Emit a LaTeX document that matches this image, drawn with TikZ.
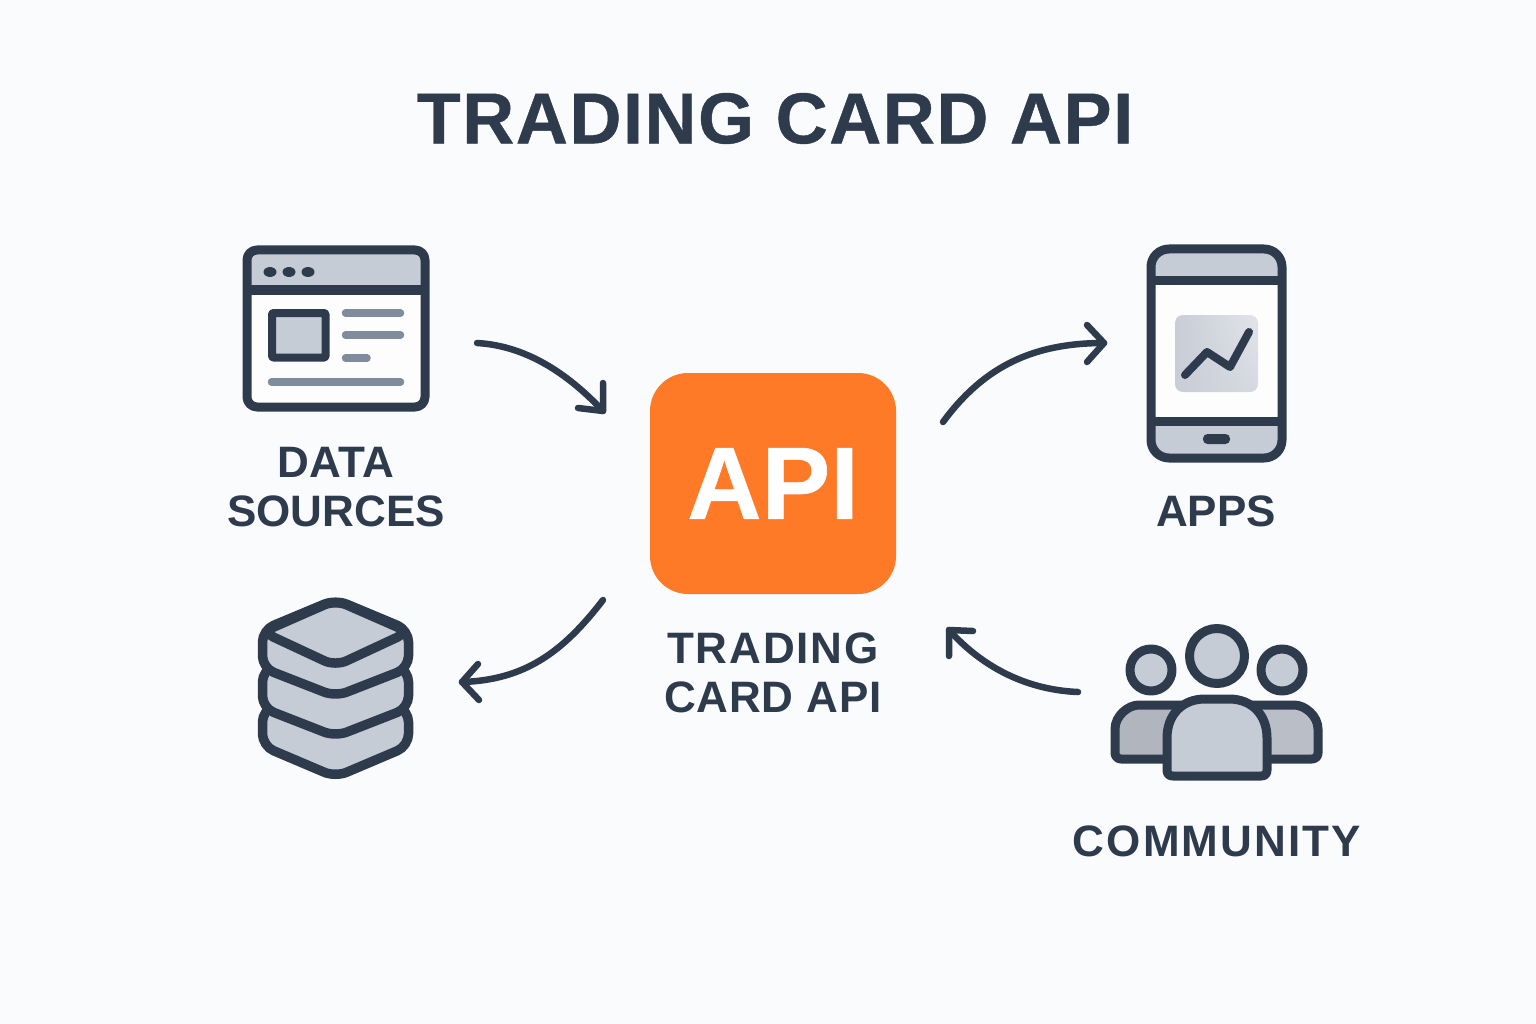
\documentclass[tikz,border=0pt]{standalone}
\usetikzlibrary{shadings}
\usepackage{fontspec}
\setmainfont{Liberation Sans}
\definecolor{ink}{HTML}{2E3B4C}
\definecolor{bgc}{HTML}{FAFBFD}
\definecolor{fillg}{HTML}{C6CCD6}
\definecolor{barg}{HTML}{7F8C9C}
\definecolor{orng}{HTML}{FF7A26}
\definecolor{bodyl}{HTML}{B0B5BE}
\definecolor{bodyr}{HTML}{B9BEC7}
\definecolor{tilea}{HTML}{C8CDD6}
\definecolor{tileb}{HTML}{E2E4E9}
\definecolor{tilec}{HTML}{D6D9E0}
\newcommand{\lsp}[2]{{\addfontfeature{LetterSpace=#1}#2}}
\tikzset{
 x=1pt,y=-1pt,
 icon/.style={draw=ink,line width=9pt,line join=round},
 bar/.style={draw=barg,line width=7.5pt,line cap=round},
 flow/.style={draw=ink,line width=6.5pt,line cap=round,line join=round},
 lbl/.style={text=ink,font=\fontsize{44}{49}\selectfont\bfseries,align=center,inner sep=0pt},
}
\begin{document}
\begin{tikzpicture}
\useasboundingbox (0,0) rectangle (1536,1024);
\fill[bgc] (0,0) rectangle (1536,1024);
\node[text=ink,font=\fontsize{72}{80}\selectfont\bfseries\addfontfeature{LetterSpace=2.2,FakeBold=0.6},inner sep=0pt] (title) at (775,118.5) {TRADING CARD API};
% browser
\fill[white!60!bgc,rounded corners=10pt] (247,250) rectangle (425,407);
\fill[fillg,rounded corners=10pt] (247,290) -- (247,250) -- (425,250) -- (425,290) -- cycle;
\draw[icon,rounded corners=10pt] (247,250) rectangle (425,407);
\draw[icon] (247,290) -- (425,290);
\foreach \x in {270,289,308}{\fill[ink] (\x,272) ellipse [x radius=6.5,y radius=5];}
\draw[icon,line width=8pt,fill=fillg,rounded corners=1pt] (272,313) rectangle (325.5,357.5);
\draw[bar] (345.5,313) -- (400.5,313);
\draw[bar] (345.5,335) -- (400.5,335);
\draw[bar] (345.5,358) -- (367,358);
\draw[bar] (271.5,382) -- (400.5,382);
\node[lbl] (ds) at (336,487) {\lsp{0.7}{DATA}\\\lsp{0}{SOURCES}};
% stack
\draw[icon,line width=9.5pt,fill=fillg,rounded corners=12pt] (335.5,680) -- (408.5,710) -- (408.5,746) -- (335.5,777) -- (262.5,746) -- (262.5,710) -- cycle;
\draw[icon,line width=9.5pt,fill=fillg,rounded corners=12pt] (335.5,640) -- (408.5,670) -- (408.5,708) -- (335.5,736.5) -- (262.5,708) -- (262.5,670) -- cycle;
\draw[icon,line width=9.5pt,fill=fillg,rounded corners=12pt] (335.5,599.5) -- (408.5,630) -- (408.5,668) -- (335.5,696.5) -- (262.5,668) -- (262.5,630) -- cycle;
\draw[icon,line width=9.5pt,rounded corners=12pt] (262.5,632) -- (335.5,600) -- (408.5,632) -- (335.5,666) -- cycle;
% API
\node[fill=orng,rounded corners=38pt,minimum width=246pt,minimum height=221pt,inner sep=0pt,text=white,font=\fontsize{103}{110}\selectfont\bfseries\addfontfeature{FakeBold=0.6}] (api) at (773,483.5) {\raisebox{-2.5pt}{API}};
\node[lbl] (tc) at (773,673) {\lsp{4.3}{TRADING}\\\lsp{2}{CARD API}};
% phone
\fill[white!60!bgc] (1151,281) rectangle (1282,421);
\fill[fillg,rounded corners=16pt] (1151,281) -- (1151,249) -- (1282,249) -- (1282,281) -- cycle;
\fill[fillg,rounded corners=16pt] (1151,421) -- (1151,458) -- (1282,458) -- (1282,421) -- cycle;
\draw[icon,rounded corners=18pt] (1151,249) rectangle (1282,458);
\draw[icon] (1151,281) -- (1282,281);
\draw[icon] (1151,421) -- (1282,421);
\fill[ink,rounded corners=4.5pt] (1203,434) rectangle (1230,444);
\shade[upper left=tilea,lower left=tilea,upper right=tileb,lower right=tilec,rounded corners=8pt] (1175,315) rectangle (1258,392);
\draw[icon,line width=8pt,line cap=round] (1185,375) -- (1207,352) -- (1230,367) -- (1249,332);
\node[lbl] (apps) at (1216,511) {\lsp{0}{APPS}};
% people
\draw[icon,fill=bodyl,rounded corners=6pt] (1190,759) -- (1115,759) -- (1115,745) -- (1115,735) .. controls (1115,716) and (1128,705) .. (1145,705) -- (1190,705) -- cycle;
\draw[icon,fill=bodyr,rounded corners=6pt] (1240,759) -- (1318,759) -- (1318,745) -- (1318,735) .. controls (1318,716) and (1305,705) .. (1288,705) -- (1240,705) -- cycle;
\draw[icon,fill=fillg] (1167,770) -- (1167,738) .. controls (1167,715) and (1182,699) .. (1205,699) -- (1229,699) .. controls (1252,699) and (1267,715) .. (1267,738) -- (1267,770) .. controls (1267,774) and (1265,776) .. (1261,776) -- (1173,776) .. controls (1169,776) and (1167,774) .. (1167,770) -- cycle;
\draw[icon,fill=fillg] (1151,670) circle [radius=21];
\draw[icon,fill=fillg] (1282,670) circle [radius=21];
\draw[icon,fill=fillg] (1217,656) circle [radius=27.5];
\node[lbl] (comm) at (1217,841) {\lsp{4.8}{COMMUNITY}};
% arrows
\coordinate (a1s) at (477,343);\coordinate (a1e) at (603,411);
\coordinate (a2s) at (943,422);\coordinate (a2e) at (1104,343);
\coordinate (a3s) at (603,600);\coordinate (a3e) at (462,682);
\coordinate (a4s) at (1078,692);\coordinate (a4e) at (949,630);
\draw[flow] (a1s) .. controls (530,346) and (572,378) .. (a1e);
\draw[flow] (603,383) -- (a1e) -- (578,408);
\draw[flow] (a2s) .. controls (985,365) and (1035,343) .. (a2e);
\draw[flow] (1087,325) -- (a2e) -- (1087,362);
\draw[flow] (a3s) .. controls (563,652) and (525,680) .. (a3e);
\draw[flow] (478,664) -- (a3e) -- (479,700);
\draw[flow] (a4s) .. controls (1030,690) and (985,670) .. (a4e);
\draw[flow] (949,656) -- (a4e) -- (973,631);
\end{tikzpicture}
\end{document}
